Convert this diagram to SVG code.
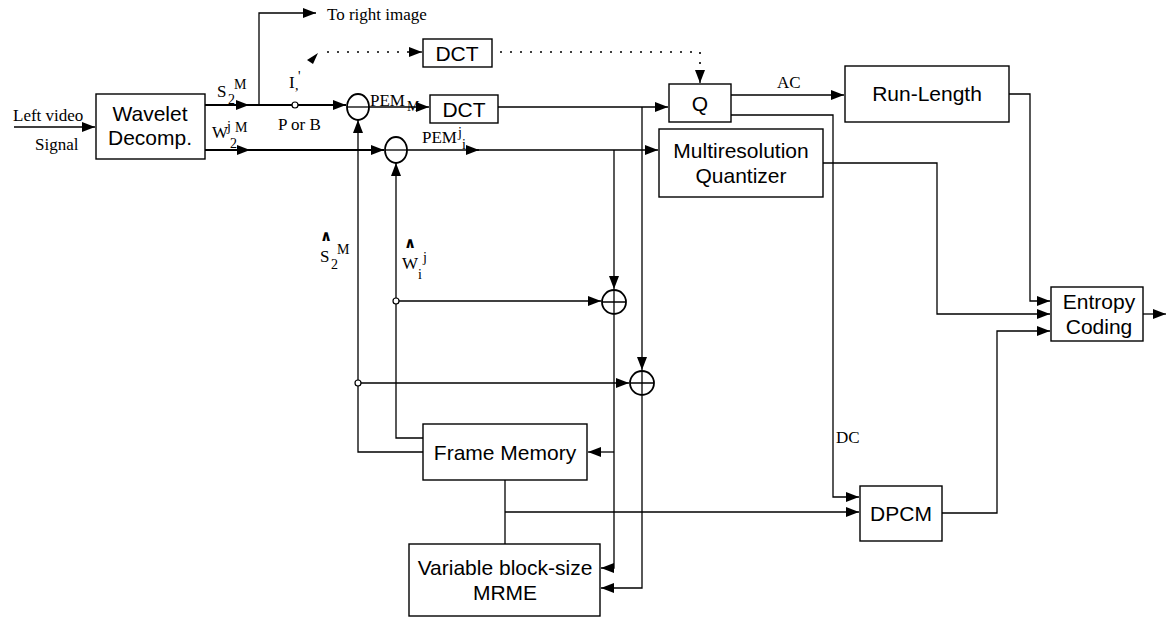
<svg xmlns="http://www.w3.org/2000/svg" width="1167" height="620" viewBox="0 0 1167 620">
<style>
.box{fill:#fff;stroke:#000;stroke-width:1.4}
.bt{font-family:"Liberation Sans",Arial,sans-serif;font-size:21px;fill:#000;text-anchor:middle}
.lb{font-family:"Liberation Serif","Times New Roman",serif;font-size:17px;fill:#000}
.sm{font-family:"Liberation Serif","Times New Roman",serif;font-size:14px;fill:#000}
.ln{fill:none;stroke:#000;stroke-width:1.3}
.th{fill:none;stroke:#000;stroke-width:2}
.dt{fill:none;stroke:#000;stroke-width:1.6;stroke-dasharray:2 8}
.op{fill:#fff;stroke:#000;stroke-width:1.8}
.hat{font-family:"DejaVu Sans",sans-serif;font-size:15px;font-weight:bold;fill:#000}
</style>
<defs>
<marker id="ah" markerUnits="userSpaceOnUse" markerWidth="14" markerHeight="10" refX="13" refY="5" orient="auto">
<path d="M0,0 L13,5 L0,10 Z" fill="#000"/>
</marker>
</defs>

<g id="connectors">
<path class="ln" d="M14,127 H95" marker-end="url(#ah)"/>
<path class="th" d="M205,105 H249" marker-end="url(#ah)"/>
<path class="th" d="M245,105 H293"/>
<path class="ln" d="M259,105 V13 H316" marker-end="url(#ah)"/>
<path class="th" d="M298,105 H346" marker-end="url(#ah)"/>
<path class="dt" d="M327,52 H421"/>
<path class="ln" d="M410,52 H422" marker-end="url(#ah)"/>
<path class="dt" d="M500,52 H700 V72"/>
<path class="ln" d="M700,70 V83" marker-end="url(#ah)"/>
<polygon points="318,53 307,60 313,64" fill="#000"/>
<path class="th" d="M205,150 H250" marker-end="url(#ah)"/>
<path class="th" d="M245,150 H384" marker-end="url(#ah)"/>
<path class="ln" d="M369,107 H429" marker-end="url(#ah)"/>
<path class="ln" d="M498,107 H668" marker-end="url(#ah)"/>
<path class="ln" d="M407,150 H479" marker-end="url(#ah)"/>
<path class="ln" d="M475,150 H658" marker-end="url(#ah)"/>
<path class="ln" d="M731,95 H844" marker-end="url(#ah)"/>
<path class="ln" d="M731,115 H833 V497 H859" marker-end="url(#ah)"/>
<path class="ln" d="M823,163 H937 V314 H1050" marker-end="url(#ah)"/>
<path class="ln" d="M1009,94 H1030 V301 H1050" marker-end="url(#ah)"/>
<path class="ln" d="M942,513 H997 V331 H1050" marker-end="url(#ah)"/>
<path class="ln" d="M1143,314 H1166" marker-end="url(#ah)"/>
<path class="ln" d="M614,150 V289" marker-end="url(#ah)"/>
<path class="ln" d="M614,315 V568 H601" marker-end="url(#ah)"/>
<path class="ln" d="M614,452 H588" marker-end="url(#ah)"/>
<path class="ln" d="M642,107 V370" marker-end="url(#ah)"/>
<path class="ln" d="M642,396 V588 H601" marker-end="url(#ah)"/>
<path class="ln" d="M423,452 H358 V120" marker-end="url(#ah)"/>
<path class="ln" d="M423,438 H396 V163" marker-end="url(#ah)"/>
<path class="ln" d="M396,301 H601" marker-end="url(#ah)"/>
<path class="ln" d="M358,383 H629" marker-end="url(#ah)"/>
<path class="ln" d="M505,480 V544"/>
<path class="ln" d="M505,512 H859" marker-end="url(#ah)"/>
<circle cx="295" cy="105" r="3" fill="#fff" stroke="#000" stroke-width="1.2"/>
<circle cx="396" cy="301" r="3" fill="#fff" stroke="#000" stroke-width="1.2"/>
<circle cx="358" cy="383" r="3" fill="#fff" stroke="#000" stroke-width="1.2"/>
</g>

<g id="sub1">
<ellipse class="op" cx="358" cy="107" rx="11" ry="13"/>
<path class="ln" d="M347,107 H369"/>
</g>
<g id="sub2">
<ellipse class="op" cx="396" cy="150" rx="11" ry="13"/>
<path class="ln" d="M385,150 H407"/>
</g>
<g id="add1">
<circle class="op" cx="614" cy="302" r="12"/>
<path class="ln" d="M602,302 H626 M614,290 V314"/>
</g>
<g id="add2">
<circle class="op" cx="642" cy="383" r="12"/>
<path class="ln" d="M630,383 H654 M642,371 V395"/>
</g>

<g id="wavelet">
<rect class="box" x="96" y="94" width="109" height="65"/>
<text class="bt" x="150" y="121">Wavelet</text>
<text class="bt" x="150" y="145">Decomp.</text>
</g>
<g id="dct_top">
<rect class="box" x="423" y="39" width="69" height="28"/>
<text class="bt" x="457" y="61">DCT</text>
</g>
<g id="dct">
<rect class="box" x="430" y="95" width="68" height="28"/>
<text class="bt" x="464" y="117">DCT</text>
</g>
<g id="q">
<rect class="box" x="669" y="84" width="62" height="38"/>
<text class="bt" x="700" y="111">Q</text>
</g>
<g id="runlength">
<rect class="box" x="845" y="66" width="164" height="56"/>
<text class="bt" x="927" y="101">Run-Length</text>
</g>
<g id="mrq">
<rect class="box" x="659" y="129" width="164" height="68"/>
<text class="bt" x="741" y="158">Multiresolution</text>
<text class="bt" x="741" y="183">Quantizer</text>
</g>
<g id="entropy">
<rect class="box" x="1051" y="287" width="92" height="54"/>
<text class="bt" x="1099" y="309">Entropy</text>
<text class="bt" x="1099" y="334">Coding</text>
</g>
<g id="framememory">
<rect class="box" x="423" y="424" width="164" height="56"/>
<text class="bt" x="505" y="460">Frame Memory</text>
</g>
<g id="mrme">
<rect class="box" x="409" y="544" width="191" height="72"/>
<text class="bt" x="505" y="575">Variable block-size</text>
<text class="bt" x="505" y="600">MRME</text>
</g>
<g id="dpcm">
<rect class="box" x="860" y="486" width="82" height="55"/>
<text class="bt" x="901" y="521">DPCM</text>
</g>

<g id="labels">
<text class="lb" x="13" y="121">Left video</text>
<text class="lb" x="35" y="150">Signal</text>
<text class="lb" x="327" y="20">To right image</text>
<text class="lb" x="217" y="97">S</text><text class="sm" x="228" y="104">2</text><text class="sm" x="234" y="89">M</text>
<text class="lb" x="212" y="138">W</text><text class="sm" x="227" y="131" font-size="12">j</text><text class="sm" x="230" y="148">2</text><text class="sm" x="235" y="132">M</text>
<text class="lb" x="278" y="130">P or B</text>
<text class="lb" x="289" y="88">I</text><text class="sm" x="295" y="90">,</text><text class="sm" x="298" y="81">'</text>
<text class="lb" x="370" y="106">PEM</text><text class="sm" x="407" y="111">M</text>
<text class="lb" x="422" y="143">PEM</text><text class="sm" x="458" y="137" font-size="12">j</text><text class="sm" x="462" y="149" font-size="12">i</text>
<text class="lb" x="777" y="88">AC</text>
<text class="lb" x="836" y="443">DC</text>
<text class="hat" x="320" y="241">∧</text>
<text class="lb" x="320" y="262">S</text><text class="sm" x="331" y="269">2</text><text class="sm" x="337" y="254">M</text>
<text class="hat" x="404" y="248">∧</text>
<text class="lb" x="402" y="269">W</text><text class="sm" x="418" y="279" font-size="12">i</text><text class="sm" x="423" y="262" font-size="12">j</text>
</g>
</svg>
